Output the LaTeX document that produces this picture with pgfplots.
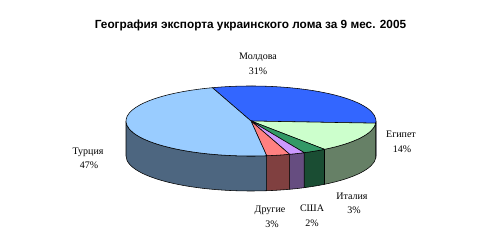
\documentclass[border=0pt]{standalone}
\usepackage{pgfplots}
\pgfplotsset{compat=1.18}
\usepackage{pgfplotstable}
\usepackage{fontspec}
\setmainfont{Liberation Serif}
\newfontfamily\arialfont{Liberation Sans}

\definecolor{topMol}{HTML}{3366FF}\definecolor{sideMol}{HTML}{1A3380}
\definecolor{topEgy}{HTML}{CCFFCC}\definecolor{sideEgy}{HTML}{668066}
\definecolor{topIta}{HTML}{339966}\definecolor{sideIta}{HTML}{1A4D33}
\definecolor{topUSA}{HTML}{CC99FF}\definecolor{sideUSA}{HTML}{664D80}
\definecolor{topOth}{HTML}{FF8080}\definecolor{sideOth}{HTML}{804040}
\definecolor{topTur}{HTML}{99CCFF}\definecolor{sideTur}{HTML}{4D6680}

\pgfplotstableread{
name value
Moldova 31
Egypt 14
Italy 3
USA 2
Others 3
Turkey 47
}\piedata

\begin{document}
\begin{tikzpicture}
% cumulative angles (clockwise from 108 deg)
\pgfplotstablegetelem{0}{value}\of\piedata\pgfmathsetmacro\vA{\pgfplotsretval}
\pgfplotstablegetelem{1}{value}\of\piedata\pgfmathsetmacro\vB{\pgfplotsretval}
\pgfplotstablegetelem{2}{value}\of\piedata\pgfmathsetmacro\vC{\pgfplotsretval}
\pgfplotstablegetelem{3}{value}\of\piedata\pgfmathsetmacro\vD{\pgfplotsretval}
\pgfplotstablegetelem{4}{value}\of\piedata\pgfmathsetmacro\vE{\pgfplotsretval}
\pgfplotstablegetelem{5}{value}\of\piedata\pgfmathsetmacro\vF{\pgfplotsretval}
\pgfmathsetmacro\aO{108}
\pgfmathsetmacro\aA{\aO-3.6*\vA}
\pgfmathsetmacro\aB{\aA-3.6*\vB}
\pgfmathsetmacro\aC{\aB-3.6*\vC}
\pgfmathsetmacro\aD{\aC-3.6*\vD}
\pgfmathsetmacro\aE{\aD-3.6*\vE}
\pgfmathsetmacro\aF{\aE-3.6*\vF}
\def\rx{125pt}\def\ry{35pt}\def\dep{35pt}
\begin{axis}[
  x=1pt, y=1pt, xmin=0, xmax=500, ymin=0, ymax=251,
  hide axis, clip=false,
]
\path (axis cs:0,0) rectangle (axis cs:500,251);
\tikzset{pe/.style={draw=black, line width=0.55pt, line join=round}}
% side faces (front half)
\newcommand\side[3]{%
  \filldraw[pe, fill=#3] (axis cs:251,130) ++(#1:{\rx} and {\ry})
    arc[start angle=#1, end angle=#2, x radius=\rx, y radius=\ry]
    -- ++(0,-\dep)
    arc[start angle=#2, end angle=#1, x radius=\rx, y radius=\ry] -- cycle;}
\side{0}{\aA}{sideMol}
\side{\aA}{\aB}{sideEgy}
\side{\aB}{\aC}{sideIta}
\side{\aC}{\aD}{sideUSA}
\side{\aD}{\aE}{sideOth}
\side{\aE}{-180}{sideTur}
% top faces
\newcommand\topf[3]{%
  \filldraw[pe, fill=#3] (axis cs:251,130) -- ++(#1:{\rx} and {\ry})
    arc[start angle=#1, end angle=#2, x radius=\rx, y radius=\ry] -- cycle;}
\topf{\aO}{\aA}{topMol}
\topf{\aA}{\aB}{topEgy}
\topf{\aB}{\aC}{topIta}
\topf{\aC}{\aD}{topUSA}
\topf{\aD}{\aE}{topOth}
\topf{\aE}{\aF}{topTur}
% texts
\node[font=\arialfont\bfseries\fontsize{11.8}{13}\selectfont] at (axis cs:250.5,226) {География экспорта украинского лома за 9 мес. 2005};
\tikzset{lb/.style={font=\fontsize{10}{11}\selectfont, inner sep=0pt}}
\node[lb] at (axis cs:258,194) {Молдова};
\node[lb] at (axis cs:258,180) {31\%};
\node[lb] at (axis cs:401,117) {Египет};
\node[lb] at (axis cs:402,102) {14\%};
\node[lb] at (axis cs:352,55) {Италия};
\node[lb] at (axis cs:354,41) {3\%};
\node[lb] at (axis cs:312,43) {США};
\node[lb] at (axis cs:312,28) {2\%};
\node[lb] at (axis cs:270,41) {Другие};
\node[lb] at (axis cs:272,27) {3\%};
\node[lb] at (axis cs:88,99) {Турция};
\node[lb] at (axis cs:89,86) {47\%};
\end{axis}
\end{tikzpicture}
\end{document}
